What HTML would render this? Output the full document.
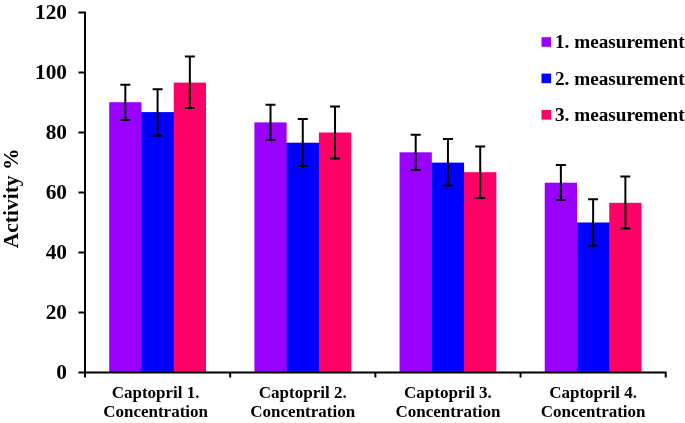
<!DOCTYPE html>
<html><head><meta charset="utf-8"><style>
html,body{margin:0;padding:0;background:#fff;width:685px;height:423px;overflow:hidden}
svg{display:block;will-change:transform}
</style></head><body>
<svg width="685" height="423" viewBox="0 0 685 423">
<rect x="140.86" y="112.10" width="33.46" height="260.40" fill="#0000FF"/>
<rect x="109.20" y="102.20" width="32.26" height="270.30" fill="#9900FF"/>
<rect x="173.72" y="82.60" width="32.26" height="289.90" fill="#FF0066"/>
<rect x="286.04" y="142.70" width="33.46" height="229.80" fill="#0000FF"/>
<rect x="318.90" y="132.50" width="32.26" height="240.00" fill="#FF0066"/>
<rect x="254.38" y="122.40" width="32.26" height="250.10" fill="#9900FF"/>
<rect x="463.48" y="172.20" width="32.86" height="200.30" fill="#FF0066"/>
<rect x="431.22" y="162.60" width="32.86" height="209.90" fill="#0000FF"/>
<rect x="399.56" y="152.30" width="32.26" height="220.20" fill="#9900FF"/>
<rect x="576.40" y="222.50" width="33.46" height="150.00" fill="#0000FF"/>
<rect x="609.26" y="202.80" width="32.26" height="169.70" fill="#FF0066"/>
<rect x="544.74" y="182.70" width="32.26" height="189.80" fill="#9900FF"/>
<path d="M125.33 84.80V120.00M120.33 84.80H130.33M120.33 120.00H130.33" stroke="#000" stroke-width="2" fill="none"/>
<path d="M157.59 89.20V135.70M152.59 89.20H162.59M152.59 135.70H162.59" stroke="#000" stroke-width="2" fill="none"/>
<path d="M189.85 56.60V108.10M184.85 56.60H194.85M184.85 108.10H194.85" stroke="#000" stroke-width="2" fill="none"/>
<path d="M270.51 104.80V139.90M265.51 104.80H275.51M265.51 139.90H275.51" stroke="#000" stroke-width="2" fill="none"/>
<path d="M302.77 119.00V166.00M297.77 119.00H307.77M297.77 166.00H307.77" stroke="#000" stroke-width="2" fill="none"/>
<path d="M335.03 106.40V158.40M330.03 106.40H340.03M330.03 158.40H340.03" stroke="#000" stroke-width="2" fill="none"/>
<path d="M415.69 134.70V169.90M410.69 134.70H420.69M410.69 169.90H420.69" stroke="#000" stroke-width="2" fill="none"/>
<path d="M447.95 138.90V185.60M442.95 138.90H452.95M442.95 185.60H452.95" stroke="#000" stroke-width="2" fill="none"/>
<path d="M480.21 146.50V198.10M475.21 146.50H485.21M475.21 198.10H485.21" stroke="#000" stroke-width="2" fill="none"/>
<path d="M560.87 164.90V199.90M555.87 164.90H565.87M555.87 199.90H565.87" stroke="#000" stroke-width="2" fill="none"/>
<path d="M593.13 199.20V245.70M588.13 199.20H598.13M588.13 245.70H598.13" stroke="#000" stroke-width="2" fill="none"/>
<path d="M625.39 176.50V228.50M620.39 176.50H630.39M620.39 228.50H630.39" stroke="#000" stroke-width="2" fill="none"/>
<path d="M85 11.5V377.5M84 372.5H666.7M78.5 12.5H85M78.5 72.5H85M78.5 132.5H85M78.5 192.5H85M78.5 252.5H85M78.5 312.5H85M78.5 372.5H85M230.18 372.5V377.5M375.36 372.5V377.5M520.54 372.5V377.5M665.72 372.5V377.5" stroke="#000" stroke-width="2" fill="none"/>
<g font-family="Liberation Serif" font-weight="bold" font-size="21.3" text-anchor="end" fill="#000">
<text x="67" y="19.2">120</text>
<text x="67" y="79.2">100</text>
<text x="67" y="139.2">80</text>
<text x="67" y="199.2">60</text>
<text x="67" y="259.2">40</text>
<text x="67" y="319.2">20</text>
<text x="67" y="379.2">0</text>
</g>
<text transform="translate(18.3 198.4) rotate(-90)" font-family="Liberation Serif" font-weight="bold" font-size="21.5" text-anchor="middle">Activity %</text>
<g font-family="Liberation Serif" font-weight="bold" font-size="17" text-anchor="middle" fill="#000">
<text x="155.59" y="397.6">Captopril 1.</text>
<text x="155.59" y="417">Concentration</text>
<text x="302.77" y="397.6">Captopril 2.</text>
<text x="302.77" y="417">Concentration</text>
<text x="447.95000000000005" y="397.6">Captopril 3.</text>
<text x="447.95000000000005" y="417">Concentration</text>
<text x="593.13" y="397.6">Captopril 4.</text>
<text x="593.13" y="417">Concentration</text>
</g>
<g font-family="Liberation Serif" font-weight="bold" font-size="19.2" fill="#000">
<rect x="541.5" y="37.2" width="9.6" height="9.6" fill="#9900FF"/>
<text x="555" y="48.1">1. measurement</text>
<rect x="541.5" y="73.6" width="9.6" height="9.6" fill="#0000FF"/>
<text x="555" y="84.5">2. measurement</text>
<rect x="541.5" y="110.0" width="9.6" height="9.6" fill="#FF0066"/>
<text x="555" y="120.9">3. measurement</text>
</g>
</svg>
</body></html>
